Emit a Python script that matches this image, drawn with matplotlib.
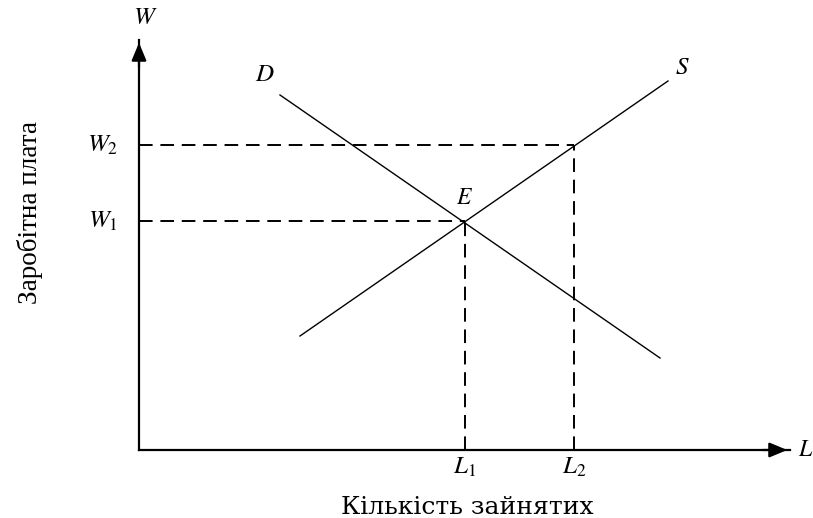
import matplotlib.pyplot as plt

plt.rcParams['mathtext.fontset'] = 'stix'
plt.rcParams['font.family'] = ['Liberation Serif', 'DejaVu Serif']

# рівновага та підвищена ставка (умовні одиниці, 0 = початок осей)
L_vals = [326, 435]
W_vals = [229, 305]
L_labels = ['$L_1$', '$L_2$']
W_labels = ['$W_1$', '$W_2$']

# криві попиту та пропозиції (кінцеві точки)
D_x = [141, 521]
D_y = [355, 92]
S_x = [161, 529]
S_y = [114, 369]

x_axis_end = 651
y_axis_end = 410

fig = plt.figure(figsize=(8.13, 5.18), dpi=100)
ax = fig.add_axes([0, 0, 1, 1])
ax.set_xlim(-139, 674)
ax.set_ylim(-68, 450)
ax.axis('off')

# осі зі стрілками
ax.plot([0, x_axis_end], [0, 0], color='black', lw=1.6)
ax.plot([0, 0], [0, y_axis_end], color='black', lw=1.6)
ax.annotate('', xy=(x_axis_end, 0), xytext=(x_axis_end - 30, 0),
            arrowprops=dict(arrowstyle='-|>,head_length=0.6,head_width=0.25',
                            color='black', lw=1.6, mutation_scale=18))
ax.annotate('', xy=(0, y_axis_end), xytext=(0, y_axis_end - 30),
            arrowprops=dict(arrowstyle='-|>,head_length=0.6,head_width=0.25',
                            color='black', lw=1.6, mutation_scale=18))

# криві
ax.plot(D_x, D_y, color='black', lw=1.0)
ax.plot(S_x, S_y, color='black', lw=1.0)

# пунктирні лінії
for lv, wv in zip(L_vals, W_vals):
    ax.plot([0, lv], [wv, wv], color='black', lw=1.4, dashes=(7, 4))
    ax.plot([lv, lv], [0, wv], color='black', lw=1.4, dashes=(7, 4))

# підписи
for lv, lab in zip(L_vals, L_labels):
    ax.text(lv, -17, lab, ha='center', va='center', fontsize=18)
for wv, lab in zip(W_vals, W_labels):
    ax.text(-36, wv, lab, ha='center', va='center', fontsize=18)

ax.text(6, 432, '$W$', ha='center', va='center', fontsize=18)
ax.text(659, 0, '$L$', ha='left', va='center', fontsize=17)
ax.text(D_x[0] - 15, D_y[0] + 20, '$D$', ha='center', va='center', fontsize=18)
ax.text(S_x[1] + 14, S_y[1] + 13, '$S$', ha='center', va='center', fontsize=18)
ax.text(L_vals[0], W_vals[0] + 23, '$E$', ha='center', va='center', fontsize=17)

ax.text(328, -58, 'Кількість зайнятих', ha='center', va='center', fontsize=18,
        family=['DejaVu Serif'])
ax.text(-109, 238, 'Заробітна плата', ha='center', va='center', rotation=90, fontsize=19.5)

fig.savefig('out.png', dpi=100)
